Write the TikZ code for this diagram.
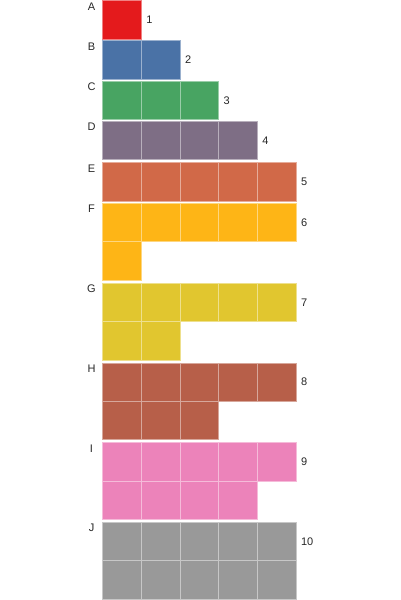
\documentclass[tikz,border=0pt]{standalone}
\usepackage{fontspec}
\setmainfont{Liberation Sans}
\usepackage{xcolor}
\usepackage{tikz}
\usetikzlibrary{positioning}

\definecolor{colA}{HTML}{E41A1C}
\definecolor{colB}{HTML}{4A72A6}
\definecolor{colC}{HTML}{48A462}
\definecolor{colD}{HTML}{7E6E85}
\definecolor{colE}{HTML}{D16948}
\definecolor{colF}{HTML}{FEB516}
\definecolor{colG}{HTML}{E1C62F}
\definecolor{colH}{HTML}{B75F49}
\definecolor{colI}{HTML}{EC83BA}
\definecolor{colJ}{HTML}{999999}

\tikzset{
    cell/.style={rectangle, inner sep=0pt, minimum width=38.66pt, minimum height=38.3pt, line width=0.7pt},
    grouplabel/.style={inner sep=0pt, text=black!85, font=\fontsize{11}{13}\selectfont},
    countlabel/.style={inner sep=0pt, anchor=west, text=black!85, font=\fontsize{11}{13}\selectfont}
}

\begin{document}
\begin{tikzpicture}[x=1pt, y=-1pt]
        \useasboundingbox (0,0) rectangle (400,600);

        % one waffle block per group
        \foreach \g/\n/\t in {A/1/0.7, B/2/40.7, C/3/81.1, D/4/121.5, E/5/162.7,
                              F/6/203.3, G/7/283.3, H/8/363, I/9/442.7, J/10/522.3} {
            \foreach \k in {1,...,\n} {
                \pgfmathtruncatemacro\col{mod(\k-1,5)}
                \pgfmathtruncatemacro\row{div(\k-1,5)}
                \node[cell, fill=col\g, draw=col\g!55!white] (\g-\k)
                    at ({122.03+38.66*\col}, {\t+19.15+38.3*\row}) {};
            }
            \pgfmathtruncatemacro\last{min(\n,5)}
            \node[countlabel, right=4.5pt of \g-\last] (n\g) {\n};
            \node[grouplabel] (l\g) at (91.5, {\t+5.7}) {\g};
        }

\end{tikzpicture}
\end{document}
